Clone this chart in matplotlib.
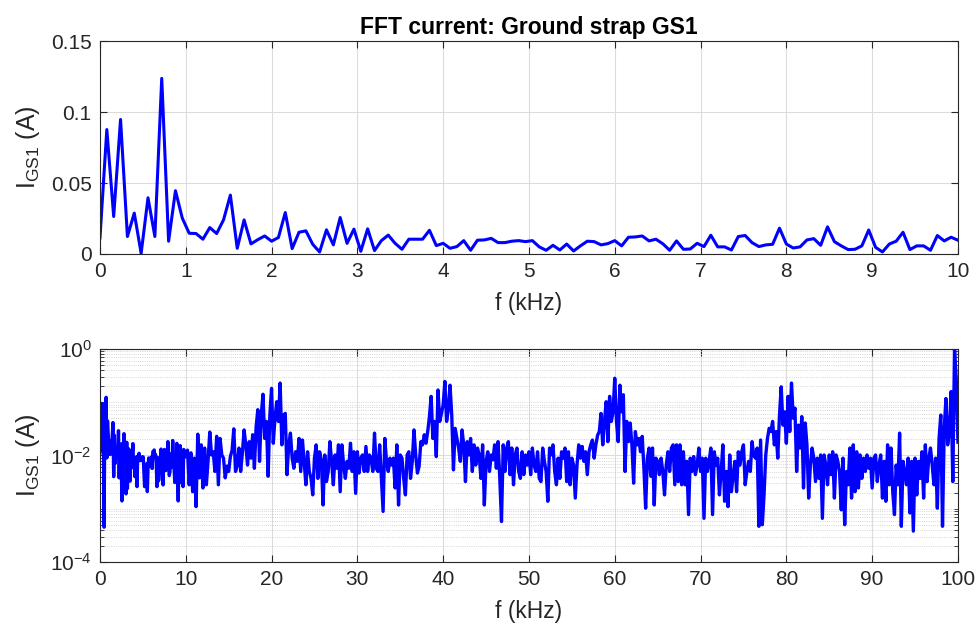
import numpy as np
import matplotlib
matplotlib.use("Agg")
import matplotlib.pyplot as plt
from matplotlib.ticker import LogLocator, NullFormatter

plt.rcParams["font.family"] = ["Liberation Sans", "DejaVu Sans"]
plt.rcParams["mathtext.fontset"] = "custom"
plt.rcParams["mathtext.rm"] = "Liberation Sans"
plt.rcParams["mathtext.it"] = "Liberation Sans:italic"
plt.rcParams["mathtext.bf"] = "Liberation Sans:bold"
plt.rcParams["axes.unicode_minus"] = False

# FFT magnitude 0-10 kHz, 80 Hz bins (A)
df_low = 0.08
i_low = [0.0113, 0.0877, 0.0264, 0.0948, 0.0123, 0.0288, 0.00045, 0.0396, 0.0123, 0.1238,
         0.009, 0.0446, 0.0252, 0.0146, 0.0144, 0.0104, 0.0186, 0.0144, 0.024, 0.0415,
         0.004, 0.024, 0.0071, 0.0101, 0.0127, 0.009, 0.0116, 0.0292, 0.0038, 0.0153,
         0.0163, 0.0068, 0.0014, 0.017, 0.0064, 0.0257, 0.0075, 0.0175, 0.0019, 0.0177,
         0.0024, 0.0094, 0.0133, 0.0075, 0.0033, 0.0104, 0.0104, 0.0104, 0.0167, 0.0059,
         0.0075, 0.004, 0.0052, 0.0094, 0.0026, 0.0097, 0.0099, 0.011, 0.008, 0.008,
         0.009, 0.0094, 0.0087, 0.0094, 0.005, 0.0026, 0.0061, 0.0028, 0.007, 0.0021,
         0.0057, 0.009, 0.0087, 0.0064, 0.0073, 0.0094, 0.0057, 0.0118, 0.012, 0.0127,
         0.0092, 0.0104, 0.0072, 0.0026, 0.0092, 0.0033, 0.0035, 0.0075, 0.0052, 0.0132,
         0.005, 0.005, 0.0028, 0.0123, 0.013, 0.008, 0.0052, 0.0064, 0.0068, 0.0182,
         0.007, 0.0042, 0.005, 0.0099, 0.0108, 0.0061, 0.0191, 0.0087, 0.0057, 0.0031,
         0.0033, 0.0057, 0.0169, 0.0047, 0.0014, 0.007, 0.009, 0.0153, 0.0031, 0.0057,
         0.0057, 0.0026, 0.013, 0.0092, 0.0118, 0.0097]

# 10.2-100 kHz, log10(A), 0.2 kHz steps
df_high = 0.2
seg_start = [10.2, 17.0, 33.6, 50.4, 67.2, 84.0]
log_10k = [-1.9, -2.55, -1.95, -2.68, -2.05, -2.96, -1.6, -2.42, -1.8, -2.61,
           -1.86, -2.55, -2.1, -1.56, -1.99, -1.93, -2.3, -1.64, -2.55, -1.68,
           -1.99, -2.05, -2.42, -2.2, -2.3, -2.02, -1.9, -1.5, -2.3, -2.18,
           -1.86, -2.3, -1.95, -1.52]
log_20k = [-1.80, -2.18, -1.74, -2.05, -1.61, -2.24, -1.46, -1.14, -2.11, -1.24,
           -0.85, -1.68, -1.36, -2.39, -1.24, -0.74, -1.77, -1.30, -0.99, -1.36,
           -0.64, -1.80, -1.24, -1.21, -2.36, -1.80, -1.58, -2.05, -2.24, -1.93,
           -2.11, -1.68, -2.30, -1.71, -2.11, -2.55, -1.93, -2.30, -2.43, -2.74,
           -2.05, -1.80, -2.43, -1.93, -2.08, -2.93, -1.99, -2.49, -2.30, -1.74,
           -2.11, -2.55, -1.99, -2.24, -1.80, -2.68, -1.80, -2.18, -2.43, -2.11,
           -2.24, -1.77, -2.30, -1.93, -2.71, -1.93, -2.33, -2.05, -1.99, -2.30,
           -1.83, -2.30, -1.99, -2.05, -2.30, -1.58, -2.24, -2.30, -1.80, -2.43,
           -3.05, -1.68, -2.11]
log_40k = [-2.3, -2.05, -2.18, -2.05, -2.61, -1.8, -2.93, -1.99, -2.05, -2.43,
           -2.74, -1.99, -1.93, -2.43, -2.11, -1.52, -1.99, -2.33, -2.2, -1.74,
           -1.8, -1.61, -1.77, -1.55, -1.27, -0.89, -1.68, -1.36, -2.02, -0.77,
           -1.36, -1.21, -1.05, -0.61, -1.36, -1.14, -0.68, -1.24, -2.27, -1.49,
           -1.68, -1.86, -2.11, -1.52, -1.8, -2.49, -1.74, -1.99, -1.68, -2.3,
           -1.8, -2.18, -1.86, -1.99, -2.43, -1.8, -2.93, -2.11, -1.93, -2.3,
           -1.99, -2.08, -1.8, -2.24, -1.74, -2.43, -3.24, -1.8, -2.3, -1.86,
           -1.74, -2.36, -1.86, -2.55, -1.99, -1.86, -2.3, -2.43, -1.93, -2.36,
           -1.99, -2.18, -1.93, -2.36]
log_60k = [-1.86, -2.18, -2.3, -1.93, -2.43, -2.49, -1.86, -2.11, -2.3, -2.86,
           -1.86, -1.99, -1.8, -2.3, -2.55, -2.05, -2.43, -1.93, -2.05, -1.86,
           -2.49, -1.93, -2.55, -2.05, -2.18, -2.8, -2.18, -1.8, -2.05, -1.83,
           -2.11, -1.93, -2.36, -1.93, -1.8, -1.71, -2.05, -1.8, -1.62, -1.55,
           -1.21, -1.8, -1.36, -0.99, -1.74, -0.89, -1.36, -1.18, -0.55, -1.36,
           -1.74, -0.68, -1.18, -0.86, -2.3, -1.36, -1.74, -1.39, -1.8, -2.52,
           -1.55, -1.8, -1.68, -1.93, -1.64, -2.24, -2.99, -2.05, -1.86, -2.39,
           -1.86, -2.93, -2.05, -2.11, -2.36, -2.05, -2.3, -2.74, -2.18, -1.93,
           -2.3, -1.86, -1.8, -2.55]
log_80k = [-1.8, -2.49, -1.8, -2.55, -1.93, -2.55, -2.11, -3.11, -2.05, -2.3,
           -2.02, -2.36, -2.18, -1.86, -2.3, -2.05, -3.18, -2.05, -2.3, -2.11,
           -1.86, -3.11, -1.93, -2.18, -2.05, -2.74, -2.3, -1.8, -2.86, -2.3,
           -2.96, -1.99, -2.68, -2.36, -2.11, -2.68, -1.93, -2.18, -1.93, -1.8,
           -2.55, -2.3, -2.11, -2.3, -1.74, -1.99, -2.05, -1.86, -3.33, -1.71,
           -3.3, -2.74, -1.99, -1.68, -1.49, -1.55, -1.36, -1.8, -1.55, -2.05,
           -1.24, -0.71, -1.43, -1.18, -1.77, -0.89, -1.55, -0.64, -1.3, -1.11,
           -2.3, -1.43, -1.86, -1.27, -2.61, -1.39, -1.8, -2.8, -2.18, -1.86,
           -2.05, -2.49, -2.05, -2.43]
log_100k = [-1.99, -3.18, -1.99, -2.18, -2.55, -1.99, -2.36, -1.93, -2.8, -1.99,
            -2.11, -2.3, -3.02, -2.05, -3.3, -2.3, -2.55, -1.86, -2.8, -1.8,
            -2.68, -1.93, -2.61, -1.99, -2.43, -2.05, -2.3, -1.99, -2.24, -2.05,
            -2.61, -2.05, -1.99, -2.49, -2.18, -1.99, -2.8, -2.11, -2.86, -1.8,
            -2.55, -1.86, -2.68, -3.11, -2.18, -2.55, -1.58, -3.33, -2.11, -2.3,
            -2.55, -2.05, -3.08, -2.11, -3.42, -2.05, -2.74, -2.11, -2.43, -1.93,
            -2.8, -1.8, -2.49, -2.05, -1.86, -2.18, -2.55, -2.05, -2.99, -1.68,
            -1.24, -3.33, -1.49, -0.93, -1.8, -1.55, -0.8, -2.49, 0.0, -0.55,
            -1.75]

f_low = df_low * np.arange(len(i_low))
f_all = [f_low]
i_all = [np.array(i_low)]
for f0, seg in zip(seg_start, [log_10k, log_20k, log_40k, log_60k, log_80k, log_100k]):
    f_all.append(f0 + df_high * np.arange(len(seg)))
    i_all.append(10.0 ** np.array(seg))
f_all = np.concatenate(f_all)
i_all = np.concatenate(i_all)

blue = (0, 0, 1)
dark = "#262626"
gridc = "#dcdcdc"

fig = plt.figure(figsize=(9.8, 6.24), dpi=100)
ax1 = fig.add_axes([0.102, 0.593, 0.8755, 0.341])
ax2 = fig.add_axes([0.102, 0.0994, 0.8755, 0.3413])

ax1.plot(f_low, i_low, color=blue, lw=2.2)
ax1.set_xlim(0, 10)
ax1.set_ylim(0, 0.15)
ax1.set_xticks(range(11))
ax1.set_yticks([0, 0.05, 0.1, 0.15])
ax1.set_yticklabels(["0", "0.05", "0.1", "0.15"])
ax1.set_title("FFT current: Ground strap GS1", fontsize=16.5, fontweight="bold", pad=5)
ax1.grid(True, color=gridc, lw=0.8)

ax2.semilogy(f_all, i_all, color=blue, lw=2.4)
ax2.set_xlim(0, 100)
ax2.set_ylim(1e-4, 1)
ax2.set_xticks(range(0, 101, 10))
ax2.set_yticks([1e-4, 1e-2, 1])
ax2.yaxis.set_minor_locator(LogLocator(base=10, subs=np.arange(1, 10), numticks=20))
ax2.yaxis.set_minor_formatter(NullFormatter())
ax2.grid(True, which="major", color=gridc, lw=0.8)
ax2.grid(True, which="minor", axis="y", color="#c8c8c8", lw=0.6, ls=":")

for ax in (ax1, ax2):
    ax.set_xlabel("f (kHz)", fontsize=16.5, color=dark, labelpad=8)
    ax.set_ylabel(r"I$_{\mathrm{GS1}}$ (A)", fontsize=18, color=dark, labelpad=6)
    ax.set_axisbelow(True)
    ax.tick_params(which="major", direction="in", top=True, right=True, length=5,
                   width=0.8, labelsize=15, colors=dark, pad=6)
    ax.tick_params(which="minor", direction="in", top=False, right=True, length=3,
                   width=0.6, colors=dark)
    for s in ax.spines.values():
        s.set_color(dark)
        s.set_linewidth(0.8)

fig.savefig("out.png", dpi=100)
